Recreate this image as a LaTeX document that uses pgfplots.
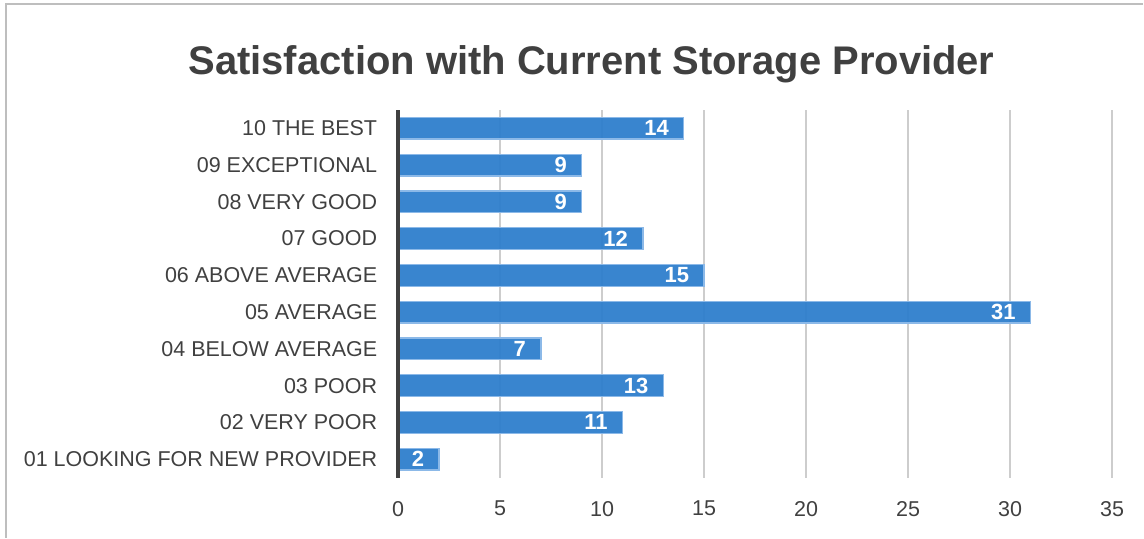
\documentclass[border=0pt]{standalone}
\usepackage{pgfplots}
\pgfplotsset{compat=1.18}
\usepackage{fontspec}
\setmainfont{Liberation Sans}
\definecolor{textgray}{RGB}{64,64,64}
\definecolor{barblue}{RGB}{46,126,204}
\definecolor{baredge}{RGB}{140,185,232}
\definecolor{gridgray}{RGB}{205,205,205}
\definecolor{framegray}{RGB}{190,190,190}

\begin{document}
\begin{tikzpicture}[x=1pt,y=1pt]
    % canvas of the reference size, frame on top and left
    \path (0,0) rectangle (1144,538);
    \draw[framegray, line width=2pt] (6,0) -- (6,533.5) -- (1144,533.5);
    \node[anchor=base, text=textgray, font=\fontsize{40}{48}\selectfont\bfseries]
        at (592,463) {Satisfaction with Current Storage Provider};

    \begin{axis}[
            at={(398.5pt,60pt)}, anchor=south west,
            scale only axis,
            width=714.5pt, height=368pt,
            clip=false,
            xbar,
            bar width=21.7pt,
            xmin=0, xmax=35,
            ymin=0.5, ymax=10.5,
            xtick={0,5,...,35},
            ytick={1,...,10},
            yticklabels={01 LOOKING FOR NEW PROVIDER, 02 VERY POOR, 03 POOR,
                04 BELOW AVERAGE, 05 AVERAGE, 06 ABOVE AVERAGE, 07 GOOD,
                08 VERY GOOD, 09 EXCEPTIONAL, 10 THE BEST},
            axis line style={draw=none},
            major tick length=0pt,
            xmajorgrids=true,
            grid style={gridgray, line width=1.3pt},
            /pgf/number format/assume math mode=true,
            tick label style={text=textgray, font=\fontsize{21.5}{26}\selectfont},
            xticklabel style={anchor=north, yshift=-20pt},
            yticklabel style={anchor=east, xshift=-17.5pt},
            nodes near coords,
            every node near coord/.append style={anchor=east, xshift=-11pt,
                text=white, font=\fontsize{22}{26}\selectfont\bfseries},
        ]
        \addplot[fill=barblue, fill opacity=0.95, text opacity=1,
                 draw=baredge, line width=1.3pt]
            coordinates {(2,1) (11,2) (13,3) (7,4) (31,5) (15,6) (12,7) (9,8) (9,9) (14,10)};
        \draw[textgray, line width=3.5pt] (axis cs:0,0.5) -- (axis cs:0,10.5);
    \end{axis}
\end{tikzpicture}
\end{document}
